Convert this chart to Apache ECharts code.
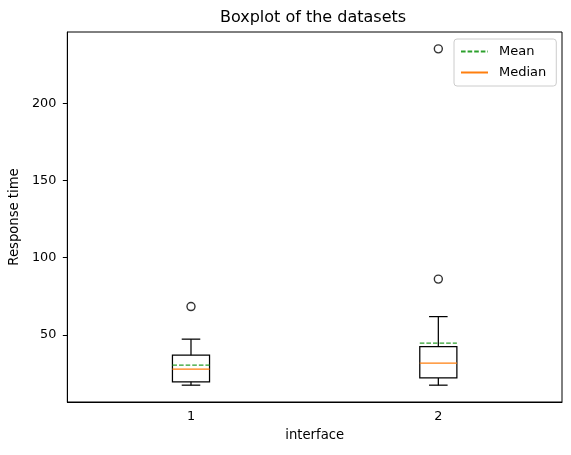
<!DOCTYPE html>
<html>
<head>
<meta charset="utf-8">
<script src="https://cdn.jsdelivr.net/npm/echarts@6/dist/echarts.min.js"></script>
<style>
html, body { margin: 0; padding: 0; background: #fff; }
#chart { width: 571px; height: 455px; }
</style>
</head>
<body>
<div id="chart"></div>
<script type="text/javascript">
	// 数据
	var categories = ['1', '2'];
	var whiskerLow = [17.4, 17.4];
	var q1 = [19.6, 22.1];
	var medians = [27.8, 31.7];
	var q3 = [36.8, 42.4];
	var whiskerHigh = [47.2, 61.8];
	var means = [30.4, 44.6];
	var outliers = [[0, 68.3], [1, 86.1], [1, 235.2]];
	var yTicks = [50, 100, 150, 200];

	var font = 'DejaVu Sans';
	var boxData = categories.map(function (c, i) {
		return [i, whiskerLow[i], q1[i], medians[i], q3[i], whiskerHigh[i], means[i]];
	});

	function renderBox(params, api) {
		var x = api.value(0);
		var w = api.size([1, 0])[0] * 0.15;
		var lo = api.coord([x, api.value(1)]);
		var b1 = api.coord([x, api.value(2)]);
		var md = api.coord([x, api.value(3)]);
		var b3 = api.coord([x, api.value(4)]);
		var hi = api.coord([x, api.value(5)]);
		var mn = api.coord([x, api.value(6)]);
		var cx = lo[0];
		var line = { stroke: '#000', lineWidth: 1.25 };
		return {
			type: 'group',
			children: [
				{ type: 'rect', shape: { x: cx - w / 2, y: b3[1], width: w, height: b1[1] - b3[1] }, style: { fill: 'none', stroke: '#000', lineWidth: 1.25 } },
				{ type: 'line', shape: { x1: cx, y1: b3[1], x2: cx, y2: hi[1] }, style: line },
				{ type: 'line', shape: { x1: cx, y1: b1[1], x2: cx, y2: lo[1] }, style: line },
				{ type: 'line', shape: { x1: cx - w / 4, y1: hi[1], x2: cx + w / 4, y2: hi[1] }, style: line },
				{ type: 'line', shape: { x1: cx - w / 4, y1: lo[1], x2: cx + w / 4, y2: lo[1] }, style: line },
				{ type: 'line', shape: { x1: cx - w / 2, y1: md[1], x2: cx + w / 2, y2: md[1] }, style: { stroke: '#ff7f0e', lineWidth: 1.25 } },
				{ type: 'line', shape: { x1: cx - w / 2, y1: mn[1], x2: cx + w / 2, y2: mn[1] }, style: { stroke: '#2ca02c', lineWidth: 1.25, lineDash: [4.6, 2] } }
			]
		};
	}

	var myChart = echarts.init(document.getElementById('chart'));
	var option = {
		animation: false,
		textStyle: { fontFamily: font },
		title: {
			text: 'Boxplot of the datasets',
			left: 313,
			textAlign: 'center',
			top: 10,
			padding: 0,
			textStyle: { fontFamily: font, fontSize: 16, fontWeight: 'normal', color: '#000' }
		},
		legend: {
			data: ['Mean', 'Median'],
			orient: 'vertical',
			left: 454,
			top: 39,
			padding: [6, 10, 7, 6],
			itemWidth: 27,
			itemHeight: 14,
			itemGap: 8,
			itemStyle: { opacity: 0 },
			borderColor: '#cccccc',
			borderWidth: 1,
			borderRadius: 3,
			backgroundColor: '#fff',
			textStyle: { fontFamily: font, fontSize: 13, color: '#000', padding: [0, 0, 0, 6] }
		},
		grid: {
			left: 66,
			right: 9,
			top: 32,
			bottom: 53,
			show: true,
			borderColor: '#000',
			borderWidth: 1
		},
		xAxis: {
			type: 'category',
			data: categories,
			boundaryGap: true,
			name: 'interface',
			nameLocation: 'middle',
			nameGap: 27,
			nameTextStyle: { fontFamily: font, fontSize: 13.2, color: '#000' },
			axisLine: { lineStyle: { color: '#000', width: 1 } },
			axisTick: { alignWithLabel: true, length: 4.5, lineStyle: { color: '#000' } },
			axisLabel: { fontFamily: font, fontSize: 12.8, color: '#000', margin: 8 },
			splitLine: { show: false }
		},
		yAxis: {
			type: 'value',
			min: 6.5,
			max: 246.1,
			name: 'Response time',
			nameLocation: 'middle',
			nameRotate: 90,
			nameGap: 44,
			nameTextStyle: { fontFamily: font, fontSize: 13.2, color: '#000' },
			axisLine: { show: true, lineStyle: { color: '#000', width: 1 } },
			axisTick: { show: true, length: 4.5, customValues: yTicks, lineStyle: { color: '#000' } },
			axisLabel: { fontFamily: font, fontSize: 12.8, color: '#000', margin: 11, customValues: yTicks },
			splitLine: { show: false }
		},
		series: [
			{
				name: 'boxes',
				type: 'custom',
				renderItem: renderBox,
				encode: { x: 0, y: [1, 2, 3, 4, 5, 6] },
				data: boxData,
				z: 3
			},
			{
				name: 'outliers',
				type: 'scatter',
				data: outliers,
				symbol: 'circle',
				symbolSize: 8,
				itemStyle: { color: 'rgba(0,0,0,0)', borderColor: '#000', borderWidth: 1.4 },
				z: 4
			},
			{
				name: 'Mean',
				type: 'line',
				data: [],
				color: '#2ca02c',
				symbol: 'none',
				lineStyle: { color: '#2ca02c', width: 1.25, type: [4.6, 2] }
			},
			{
				name: 'Median',
				type: 'line',
				data: [],
				color: '#ff7f0e',
				symbol: 'none',
				lineStyle: { color: '#ff7f0e', width: 1.25 }
			}
		]
	};
	myChart.setOption(option);
</script>
</body>
</html>
